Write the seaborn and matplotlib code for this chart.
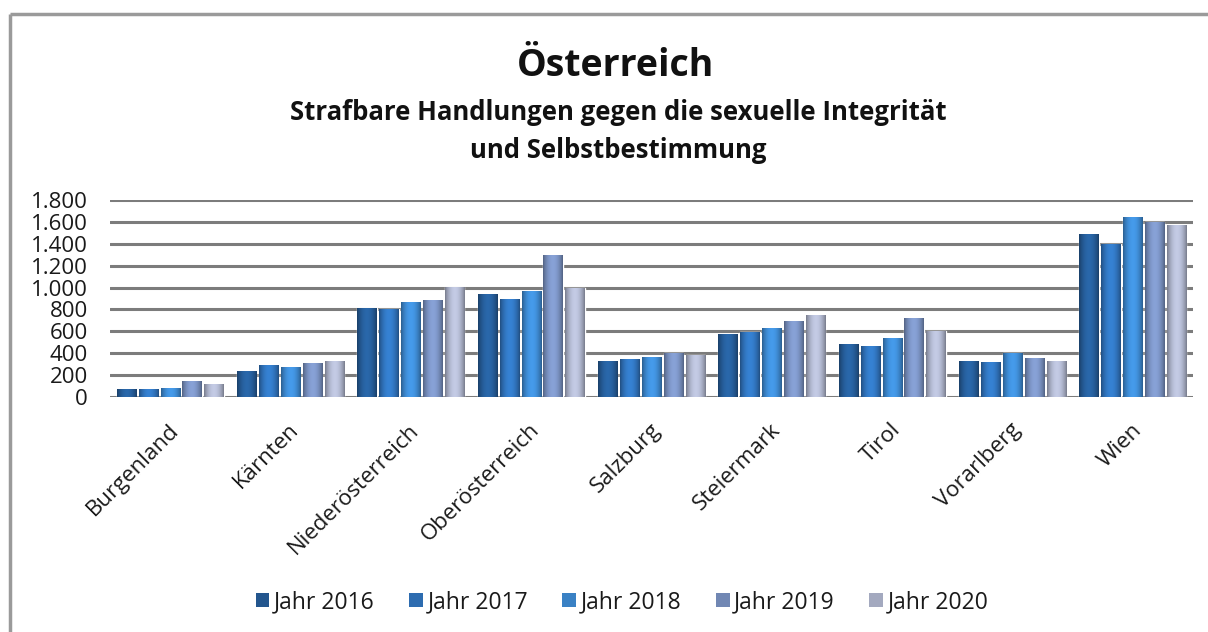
import numpy as np
import pandas as pd
import matplotlib
matplotlib.use("Agg")
import matplotlib.pyplot as plt
import matplotlib.transforms as mtransforms
from matplotlib.colors import to_rgb
from matplotlib.patches import Rectangle
from matplotlib.lines import Line2D
import seaborn as sns

# Bundesländer and yearly counts
laender = ["Burgenland", "Kärnten", "Niederösterreich", "Oberösterreich",
           "Salzburg", "Steiermark", "Tirol", "Vorarlberg", "Wien"]
jahre = ["Jahr 2016", "Jahr 2017", "Jahr 2018", "Jahr 2019", "Jahr 2020"]
werte_2016 = [75, 240, 810, 940, 330, 580, 480, 325, 1490]
werte_2017 = [75, 290, 800, 900, 345, 590, 470, 320, 1400]
werte_2018 = [80, 275, 870, 970, 370, 630, 535, 405, 1645]
werte_2019 = [150, 310, 885, 1300, 405, 695, 725, 360, 1595]
werte_2020 = [115, 325, 1005, 995, 385, 750, 605, 330, 1575]
y_ticks = [0, 200, 400, 600, 800, 1000, 1200, 1400, 1600, 1800]
y_labels = ["0", "200", "400", "600", "800", "1.000", "1.200", "1.400", "1.600", "1.800"]

farben = ["#23568e", "#2d6cb0", "#3a81c4", "#7187b3", "#a3a9bf"]

rows = []
for jahr, werte in zip(jahre, [werte_2016, werte_2017, werte_2018, werte_2019, werte_2020]):
    for land, w in zip(laender, werte):
        rows.append({"Land": land, "Jahr": jahr, "Anzahl": w})
df = pd.DataFrame(rows)

sns.set_theme(style="white")
plt.rcParams["font.family"] = ["Open Sans", "DejaVu Sans"]

fig = plt.figure(figsize=(12.08, 6.32), dpi=100)
fig.patch.set_facecolor("white")

# chart frame: top and left edges
top_y = 1 - 14 / 632
left_x = 10 / 1208
fig.add_artist(Line2D([left_x, 1.0], [top_y, top_y], transform=fig.transFigure,
                      color="#9a9a9a", linewidth=2.5, solid_capstyle="butt"))
fig.add_artist(Line2D([left_x, left_x], [0.0, top_y], transform=fig.transFigure,
                      color="#9a9a9a", linewidth=2.5, solid_capstyle="butt"))

ax = fig.add_axes([110 / 1208, 1 - 397 / 632, (1193 - 110) / 1208, 197 / 632])
sns.barplot(data=df, x="Land", y="Anzahl", hue="Jahr", order=laender,
            hue_order=jahre, palette=farben, width=0.91, gap=0.12,
            saturation=1, ax=ax, legend=True)

# shaded cylinder-like look for each bar
for patch in list(ax.patches):
    if patch.get_height() <= 0:
        continue
    base = np.array(to_rgb(patch.get_facecolor()))
    xs = np.linspace(0, 1, 64)
    shade = 0.72 + 0.48 * np.sin(np.pi * xs) ** 0.8
    grad = np.clip(base[None, :] * shade[:, None], 0, 1)
    x0, y0 = patch.get_x(), patch.get_y()
    w, h = patch.get_width(), patch.get_height()
    im = ax.imshow(grad[None, :, :], extent=[x0, x0 + w, y0, y0 + h],
                   aspect="auto", zorder=patch.get_zorder() + 0.1,
                   interpolation="bilinear")
    im.set_clip_path(patch)

ax.set_xlim(-0.5, len(laender) - 0.5)
ax.set_ylim(0, 1800)
ax.set_yticks(y_ticks)
ax.set_yticklabels(y_labels)
ax.set_xlabel("")
ax.set_ylabel("")
ax.set_axisbelow(True)
ax.yaxis.grid(True, color="#7c7c7c", linewidth=2.2)
ax.xaxis.grid(False)
for s in ax.spines.values():
    s.set_visible(False)
ax.tick_params(axis="y", length=0, pad=16, labelsize=16, labelcolor="#1a1a1a")
ax.tick_params(axis="x", length=0, pad=4, labelsize=16, labelcolor="#1a1a1a")

offset = mtransforms.ScaledTranslation(-2 / 100, -17 / 100, fig.dpi_scale_trans)
for lbl in ax.get_xticklabels():
    lbl.set_rotation(45)
    lbl.set_ha("right")
    lbl.set_va("top")
    lbl.set_rotation_mode("anchor")
    lbl.set_transform(lbl.get_transform() + offset)

ax.get_legend().remove()
handles = [Rectangle((0, 0), 1, 1, facecolor=c, edgecolor="none") for c in farben]
fig.legend(handles, jahre, loc="center", bbox_to_anchor=(622 / 1208, 1 - 602 / 632),
           ncol=5, frameon=False, fontsize=16.5, handlelength=0.6, handleheight=0.6,
           handletextpad=0.2, columnspacing=1.5, labelcolor="#1a1a1a")

fig.text(616 / 1208, 1 - 66 / 632, "Österreich", ha="center", va="center",
         fontsize=27, fontweight="bold", color="#111111")
fig.text(618 / 1208, 1 - 113 / 632, "Strafbare Handlungen gegen die sexuelle Integrität",
         ha="center", va="center", fontsize=18.5, fontweight="bold", color="#111111")
fig.text(618 / 1208, 1 - 151 / 632, "und Selbstbestimmung",
         ha="center", va="center", fontsize=18.5, fontweight="bold", color="#111111")

fig.savefig("out.png", dpi=100, facecolor="white")
